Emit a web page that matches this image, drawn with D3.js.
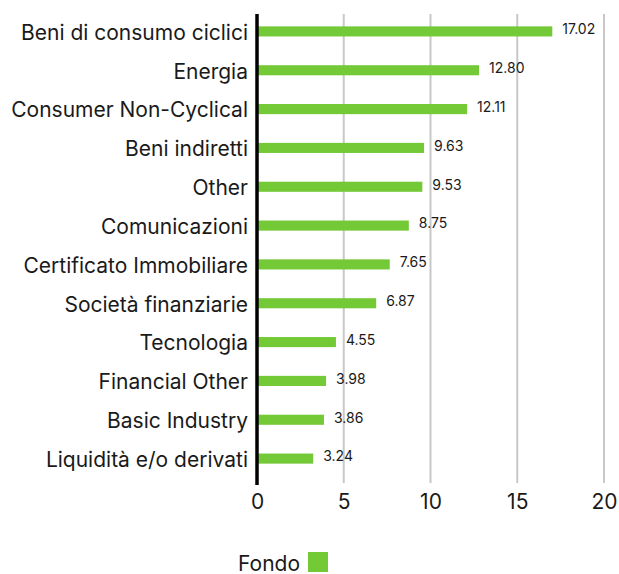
<!DOCTYPE html>
<html lang="en">
<head>
    <meta charset="utf-8">
    <title>Settori</title>
    <script src="https://cdnjs.cloudflare.com/ajax/libs/d3/7.8.5/d3.min.js"></script>
    <style>
        body { margin: 0; background: #fff; }
        svg text { font-family: Inter, "Open Sans", sans-serif; fill: #1a1a1a; }
        .cat text { font-size: 21px; }
        .xaxis text { font-size: 21px; }
        .val { font-size: 14px; }
    </style>
</head>
<body>
<div id="chart"></div>
<script>
    var categories = ["Beni di consumo ciclici", "Energia", "Consumer Non-Cyclical", "Beni indiretti",
        "Other", "Comunicazioni", "Certificato Immobiliare", "Società finanziarie", "Tecnologia",
        "Financial Other", "Basic Industry", "Liquidità e/o derivati"];
    var fondo = [17.02, 12.80, 12.11, 9.63, 9.53, 8.75, 7.65, 6.87, 4.55, 3.98, 3.86, 3.24];
    var xTicks = [0, 5, 10, 15, 20];
    var seriesName = "Fondo";

    var width = 619, height = 574;
    var margin = {left: 257, right: 15, top: 12, bottom: 90};
    var green = "#74c936";

    var svg = d3.select("#chart").append("svg")
        .attr("width", width)
        .attr("height", height);

    var x = d3.scaleLinear().domain([0, 20]).range([margin.left, 604]);
    var y = d3.scaleBand().domain(categories).range([12, 478]).paddingInner(0.74).paddingOuter(0.37);

    // gridlines
    svg.append("g").selectAll("line")
        .data(xTicks.filter(d => d > 0))
        .enter().append("line")
        .attr("x1", d => x(d)).attr("x2", d => x(d))
        .attr("y1", 14).attr("y2", 483)
        .attr("stroke", "#c8c8c8").attr("stroke-width", 2);

    // bars
    svg.append("g").selectAll("rect")
        .data(fondo)
        .enter().append("rect")
        .attr("x", x(0))
        .attr("y", (d, i) => y(categories[i]))
        .attr("width", d => x(d) - x(0))
        .attr("height", y.bandwidth())
        .attr("fill", green);

    // value labels
    svg.append("g").selectAll("text")
        .data(fondo)
        .enter().append("text")
        .attr("class", "val")
        .attr("x", d => x(d) + 10)
        .attr("y", (d, i) => y(categories[i]) + y.bandwidth() / 2 - 2)
        .attr("dy", "0.35em")
        .text(d => d.toFixed(2));

    // category axis
    var yAxis = svg.append("g").attr("class", "cat")
        .attr("transform", "translate(" + (margin.left - 9) + ",0)")
        .call(d3.axisLeft(y).tickSize(0).tickPadding(0));
    yAxis.select(".domain").remove();
    yAxis.selectAll("text").attr("dy", "0.4em");

    // black baseline
    svg.append("line")
        .attr("x1", x(0)).attr("x2", x(0))
        .attr("y1", 14).attr("y2", 485)
        .attr("stroke", "#000").attr("stroke-width", 3.5);

    // x axis labels
    var xAxis = svg.append("g").attr("class", "xaxis")
        .attr("transform", "translate(0,490)")
        .call(d3.axisBottom(x).tickValues(xTicks).tickSize(0).tickPadding(4));
    xAxis.select(".domain").remove();

    // legend
    var lg = svg.append("g").attr("transform", "translate(0,566)");
    lg.append("text").attr("x", 300).attr("y", 5).attr("text-anchor", "end")
        .style("font-size", "21px").text(seriesName);
    lg.append("rect").attr("x", 308).attr("y", -14).attr("width", 20).attr("height", 20).attr("fill", green);
</script>
</body>
</html>
